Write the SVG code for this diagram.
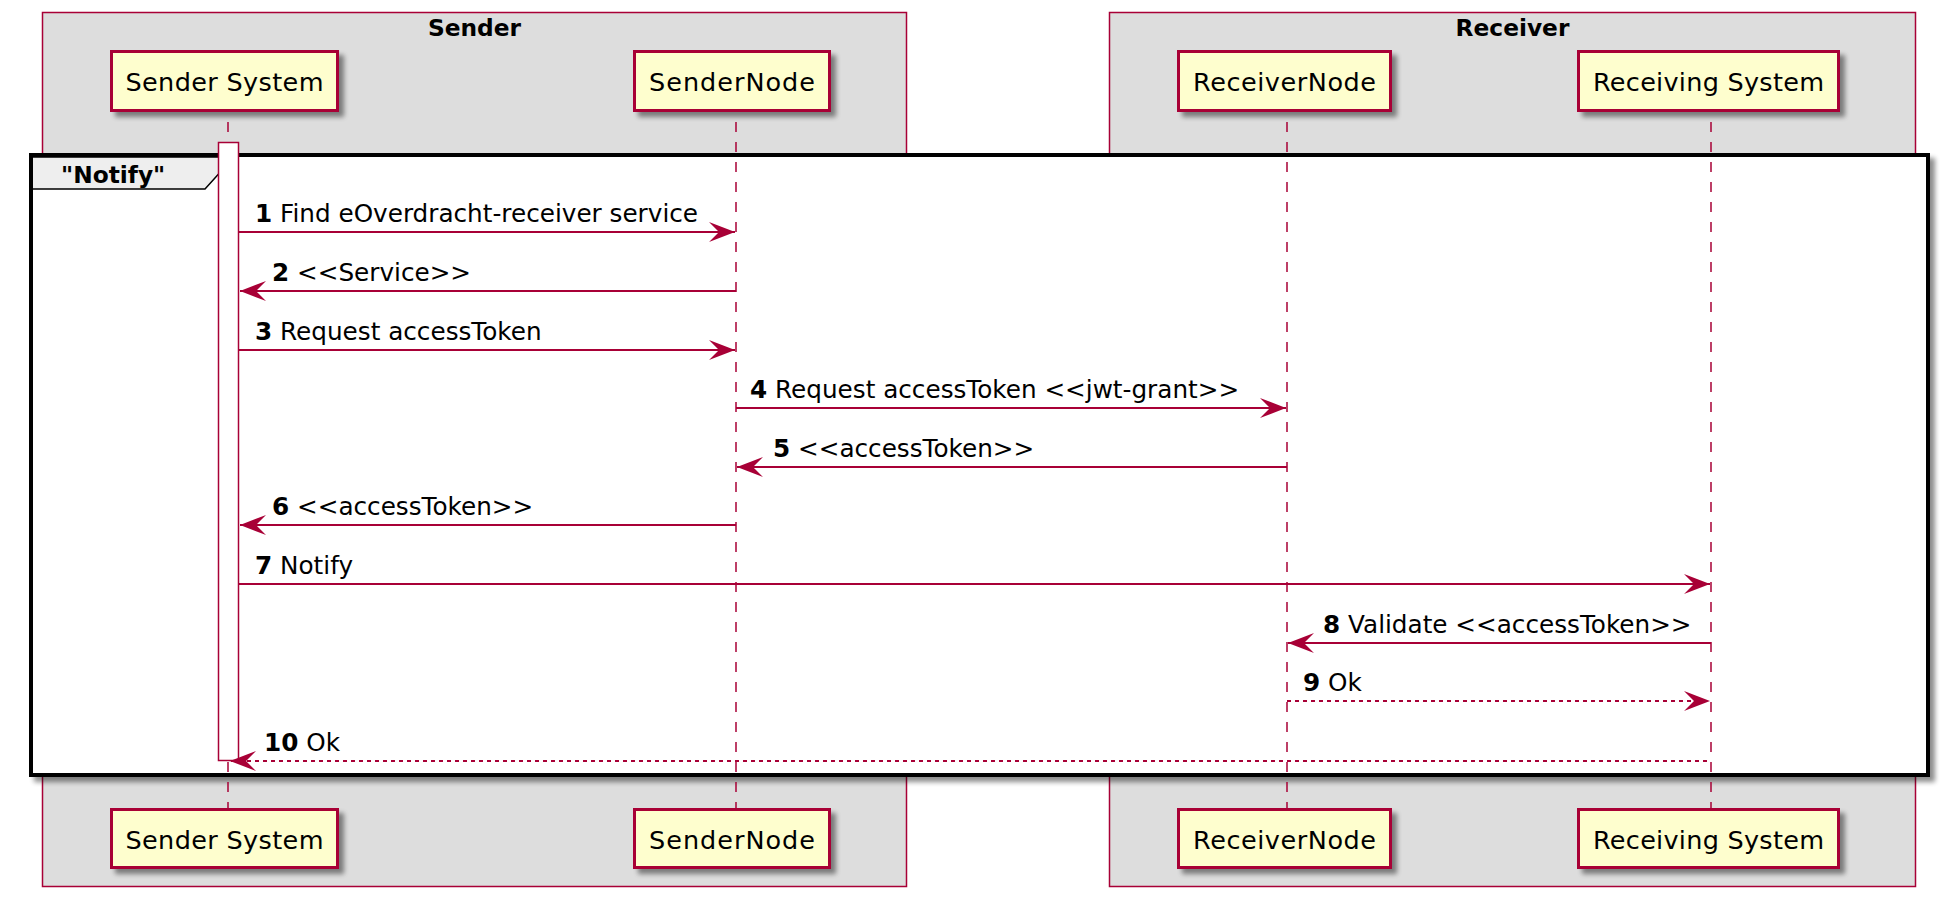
<svg xmlns="http://www.w3.org/2000/svg" width="1953" height="897" viewBox="0 0 1953 897">
<defs>
<filter id="sh" x="-10%" y="-10%" width="130%" height="130%">
<feGaussianBlur in="SourceAlpha" stdDeviation="2.5"/>
<feOffset dx="5" dy="5" result="o"/>
<feComponentTransfer><feFuncA type="linear" slope="0.45"/></feComponentTransfer>
<feMerge><feMergeNode/><feMergeNode in="SourceGraphic"/></feMerge>
</filter>
<marker id="ah" viewBox="-27 -11 28 22" refX="0" refY="0" markerWidth="28" markerHeight="22" markerUnits="userSpaceOnUse" orient="auto">
<path d="M0,0 L-26,-10 L-16,0 L-26,10 Z" fill="#A80036"/>
</marker>
</defs>
<style>
.box{fill:#DDDDDD;stroke:#A80036;stroke-width:1.5}
.btitle{font-family:"DejaVu Sans",sans-serif;font-weight:bold;font-size:23.3px;fill:#000;text-anchor:middle}
.part rect{fill:#FEFECE;stroke:#A80036;stroke-width:3;filter:url(#sh)}
.part text{font-family:"DejaVu Sans",sans-serif;font-size:25.5px;fill:#000;text-anchor:middle}
.life{stroke:#A80036;stroke-width:1.5;stroke-dasharray:10,10;stroke-dashoffset:10;fill:none}
.act{fill:#FFFFFF;stroke:#A80036;stroke-width:1.5}
.frame{fill:#FFFFFF;stroke:#000;stroke-width:4;filter:url(#sh)}
.tab{fill:#EEEEEE;stroke:#000;stroke-width:1.5}
.gtitle{font-family:"DejaVu Sans",sans-serif;font-weight:bold;font-size:23.3px;fill:#000}
.msg{stroke:#A80036;stroke-width:2;fill:none;marker-end:url(#ah)}
.dot{stroke-dasharray:4,4}
.mt{font-family:"DejaVu Sans",sans-serif;font-size:24.7px;fill:#000}
.mt tspan.n{font-weight:bold}
</style>

<g id="box-sender">
<rect class="box" x="42.5" y="12.5" width="864" height="874"/>
<text class="btitle" x="474.5" y="36">Sender</text>
</g>
<g id="box-receiver">
<rect class="box" x="1109.5" y="12.5" width="806" height="874"/>
<text class="btitle" x="1512.5" y="36">Receiver</text>
</g>

<g id="group-notify">
<rect class="frame" x="31" y="155" width="1897" height="620"/>
<path class="tab" d="M33,157 H224 V168 L205,189 H33"/>
<text class="gtitle" x="61" y="183">"Notify"</text>
</g>

<g id="lifelines">
<line class="life" x1="228" y1="112" x2="228" y2="808"/>
<line class="life" x1="736" y1="112" x2="736" y2="808"/>
<line class="life" x1="1287" y1="112" x2="1287" y2="808"/>
<line class="life" x1="1711" y1="112" x2="1711" y2="808"/>
</g>

<g id="activation-sender-system">
<rect class="act" x="218.5" y="142.5" width="20" height="618"/>
</g>

<g id="connectors">
<line class="msg" x1="239" y1="232" x2="735" y2="232"/>
<text class="mt" x="255" y="222"><tspan class="n">1</tspan> Find eOverdracht-receiver service</text>

<line class="msg" x1="736" y1="291" x2="240" y2="291"/>
<text class="mt" x="272" y="281"><tspan class="n">2</tspan> &lt;&lt;Service&gt;&gt;</text>

<line class="msg" x1="239" y1="350" x2="735" y2="350"/>
<text class="mt" x="255" y="340"><tspan class="n">3</tspan> Request accessToken</text>

<line class="msg" x1="736" y1="408" x2="1286" y2="408"/>
<text class="mt" x="750" y="398"><tspan class="n">4</tspan> Request accessToken &lt;&lt;jwt-grant&gt;&gt;</text>

<line class="msg" x1="1287" y1="467" x2="737" y2="467"/>
<text class="mt" x="773" y="457"><tspan class="n">5</tspan> &lt;&lt;accessToken&gt;&gt;</text>

<line class="msg" x1="736" y1="525" x2="240" y2="525"/>
<text class="mt" x="272" y="515"><tspan class="n">6</tspan> &lt;&lt;accessToken&gt;&gt;</text>

<line class="msg" x1="239" y1="584" x2="1710" y2="584"/>
<text class="mt" x="255" y="574"><tspan class="n">7</tspan> Notify</text>

<line class="msg" x1="1711" y1="643" x2="1288" y2="643"/>
<text class="mt" x="1323" y="633"><tspan class="n">8</tspan> Validate &lt;&lt;accessToken&gt;&gt;</text>

<line class="msg dot" x1="1287" y1="701" x2="1710" y2="701"/>
<text class="mt" x="1303" y="691"><tspan class="n">9</tspan> Ok</text>

<line class="msg dot" x1="1707" y1="761" x2="230" y2="761"/>
<text class="mt" x="264" y="751"><tspan class="n">10</tspan> Ok</text>
</g>

<g id="p-sender-system-top" class="part">
<rect x="111.5" y="51.5" width="226" height="59"/>
<text x="224.5" y="91" textLength="198">Sender System</text>
</g>
<g id="p-sendernode-top" class="part">
<rect x="634.5" y="51.5" width="195" height="59"/>
<text x="732" y="91" textLength="166">SenderNode</text>
</g>
<g id="p-receivernode-top" class="part">
<rect x="1178.5" y="51.5" width="212" height="59"/>
<text x="1284.5" y="91" textLength="183">ReceiverNode</text>
</g>
<g id="p-receiving-system-top" class="part">
<rect x="1578.5" y="51.5" width="260" height="59"/>
<text x="1708.5" y="91" textLength="231">Receiving System</text>
</g>

<g id="p-sender-system-bottom" class="part">
<rect x="111.5" y="809.5" width="226" height="58"/>
<text x="224.5" y="849" textLength="198">Sender System</text>
</g>
<g id="p-sendernode-bottom" class="part">
<rect x="634.5" y="809.5" width="195" height="58"/>
<text x="732" y="849" textLength="166">SenderNode</text>
</g>
<g id="p-receivernode-bottom" class="part">
<rect x="1178.5" y="809.5" width="212" height="58"/>
<text x="1284.5" y="849" textLength="183">ReceiverNode</text>
</g>
<g id="p-receiving-system-bottom" class="part">
<rect x="1578.5" y="809.5" width="260" height="58"/>
<text x="1708.5" y="849" textLength="231">Receiving System</text>
</g>
</svg>
